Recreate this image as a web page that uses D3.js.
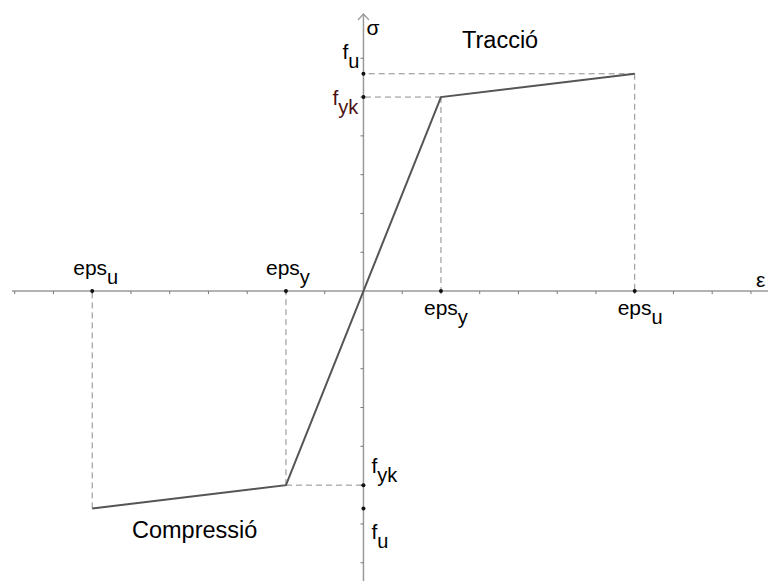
<!DOCTYPE html>
<html>
<head>
<meta charset="utf-8">
<script src="https://cdn.jsdelivr.net/npm/d3@7"></script>
<style>
    body { margin: 0; background: #fff; }
    svg text { font-family: "Liberation Sans", Arial, sans-serif; fill: #000; }
</style>
</head>
<body>
<div id="chart"></div>
<script>
// strain / stress breakpoints of the bilinear steel diagram (axis units)
const epsY = 2;
const epsU = 7;
const fyk = 5;
const fu = 5.6;

const curve = [[-epsU, -fu], [-epsY, -fyk], [epsY, fyk], [epsU, fu]];
// corner point, draw horizontal guide?, draw vertical guide?
const corners = [
    [epsY, fyk, true, true],
    [epsU, fu, true, true],
    [-epsY, -fyk, true, true],
    [-epsU, -fu, false, true]
];

const xTicks = d3.range(-9, 11).filter(d => d !== 0);
const yTicks = d3.range(-7, 7).filter(d => d !== 0);

const width = 768, height = 581;

const svg = d3.select("#chart").append("svg")
    .attr("width", width)
    .attr("height", height);

const x = d3.scaleLinear().domain([-9.07, 10.44]).range([12, 768]);
const y = d3.scaleLinear().domain([-7.47, 7.14]).range([581, 14]);

// dashed helper lines
corners.forEach(p => {
    if (p[2]) {
        svg.append("line")
            .attr("x1", x(p[0])).attr("y1", y(p[1]))
            .attr("x2", x(0)).attr("y2", y(p[1]))
            .attr("stroke", "#8c8c8c").attr("stroke-width", 1)
            .attr("stroke-dasharray", "6,4");
    }
    if (p[3]) {
        svg.append("line")
            .attr("x1", x(p[0])).attr("y1", y(p[1]))
            .attr("x2", x(p[0])).attr("y2", y(0))
            .attr("stroke", "#8c8c8c").attr("stroke-width", 1)
            .attr("stroke-dasharray", "6,4");
    }
});

// axes
svg.append("line")
    .attr("x1", x.range()[0]).attr("x2", x.range()[1])
    .attr("y1", y(0)).attr("y2", y(0))
    .attr("stroke", "#9a9a9a").attr("stroke-width", 1.5);

svg.append("line")
    .attr("x1", x(0)).attr("x2", x(0))
    .attr("y1", y.range()[0]).attr("y2", y.range()[1])
    .attr("stroke", "#9a9a9a").attr("stroke-width", 1.5);

// arrow head of the sigma axis
svg.append("path")
    .attr("d", `M${x(0) - 5.5},${y.range()[1] + 6} L${x(0)},${y.range()[1]} L${x(0) + 5.5},${y.range()[1] + 6}`)
    .attr("fill", "none")
    .attr("stroke", "#9a9a9a").attr("stroke-width", 1.2);

svg.selectAll(".xtick")
    .data(xTicks)
    .enter().append("line")
    .attr("class", "xtick")
    .attr("x1", d => x(d)).attr("x2", d => x(d))
    .attr("y1", y(0)).attr("y2", y(0) + 3)
    .attr("stroke", "#777").attr("stroke-width", 1);

svg.selectAll(".ytick")
    .data(yTicks)
    .enter().append("line")
    .attr("class", "ytick")
    .attr("x1", x(0) - 3).attr("x2", x(0))
    .attr("y1", d => y(d)).attr("y2", d => y(d))
    .attr("stroke", "#777").attr("stroke-width", 1);

// stress-strain curve
svg.append("path")
    .datum(curve)
    .attr("d", d3.line().x(d => x(d[0])).y(d => y(d[1])))
    .attr("fill", "none")
    .attr("stroke", "#555")
    .attr("stroke-width", 2);

// points on the axes
const dots = [];
corners.forEach(p => { dots.push([p[0], 0]); dots.push([0, p[1]]); });
svg.selectAll(".dot")
    .data(dots)
    .enter().append("circle")
    .attr("class", "dot")
    .attr("cx", d => x(d[0])).attr("cy", d => y(d[1]))
    .attr("r", 2)
    .attr("fill", "#111");

// labels with subscript
function label(px, py, main, sub, color) {
    const t = svg.append("text")
        .attr("x", px).attr("y", py)
        .style("font-size", "21px")
        .style("fill", color || "#000");
    t.append("tspan").text(main);
    if (sub) {
        t.append("tspan").attr("dy", 9).style("font-size", "20px").text(sub);
    }
}

label(x(-epsU) - 19, y(0) - 16, "eps", "u");
label(x(-epsY) - 20, y(0) - 16, "eps", "y");
label(x(epsY) - 17, y(0) + 24, "eps", "y");
label(x(epsU) - 17, y(0) + 24, "eps", "u");

label(x(0) - 21, y(fu) - 15, "f", "u");
label(x(0) - 31, y(fyk) + 8, "f", "yk", "#4a1010");
label(x(0) + 8, y(-fyk) - 12, "f", "yk");
label(x(0) + 8, y(-fu) + 31, "f", "u");

svg.append("text")
    .attr("x", x(0) + 3).attr("y", 35)
    .style("font-size", "21px")
    .text("σ");

svg.append("text")
    .attr("x", 756).attr("y", y(0) - 4)
    .style("font-size", "21px")
    .text("ε");

svg.append("text")
    .attr("x", 462).attr("y", 48)
    .style("font-size", "23.5px")
    .text("Tracció");

svg.append("text")
    .attr("x", 132).attr("y", 538)
    .style("font-size", "23.5px")
    .text("Compressió");
</script>
</body>
</html>
